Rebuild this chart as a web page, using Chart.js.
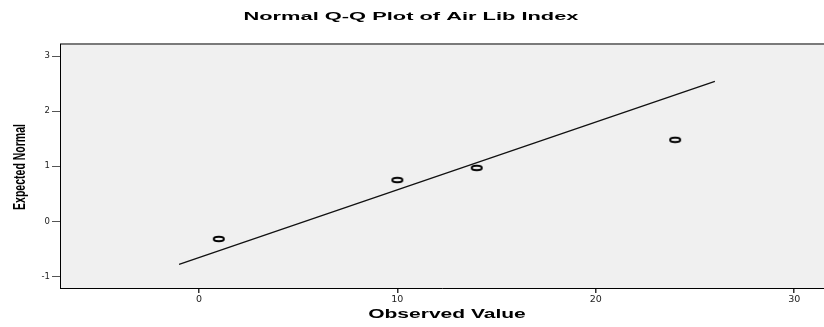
<!DOCTYPE html>
<html>
<head>
<meta charset="utf-8">
<title>Normal Q-Q Plot of Air Lib Index</title>
<script src="https://cdn.jsdelivr.net/npm/chart.js@4/dist/chart.umd.min.js"></script>
<style>
  html, body { margin: 0; padding: 0; background: #fff; overflow: hidden; }
  #wrap { width: 830px; height: 327px; }
  canvas { display: block; }
</style>
</head>
<body>
<!-- plot area runs off the right edge of the window -->
<div id="wrap"><canvas id="qq" width="830" height="327"></canvas></div>
<script>
// Observed values and their expected normal quantiles
const observed = [1, 10, 14, 24];
const expectedNormal = [-0.32, 0.75, 0.97, 1.48];

// Reference line end points
const refLineX = [-1, 26];
const refLineY = [-0.78, 2.54];

const xTickValues = [0, 10, 20, 30];
const yTickValues = [-1, 0, 1, 2, 3];

const titleText = "Normal Q-Q Plot of Air Lib Index";
const xTitle = "Observed Value";
const yTitle = "Expected Normal";

// open elliptical marker, wider than tall
const marker = document.createElement("canvas");
marker.width = 14;
marker.height = 8;
{
  const m = marker.getContext("2d");
  m.strokeStyle = "#000";
  m.lineWidth = 2;
  m.beginPath();
  m.ellipse(7, 4, 5, 2.2, 0, 0, Math.PI * 2);
  m.stroke();
}

// wide, flattened labels
function wideText(ctx, text, x, y, font, sx, vertical) {
  ctx.save();
  ctx.translate(x, y);
  ctx.scale(sx, 1);
  if (vertical) ctx.rotate(-Math.PI / 2);
  ctx.font = font;
  ctx.fillStyle = "#000";
  ctx.textAlign = "center";
  ctx.textBaseline = "middle";
  ctx.fillText(text, 0, 0);
  ctx.restore();
}

const frame = {
  id: "frame",
  beforeDraw(chart) {
    const { ctx, chartArea: a } = chart;
    ctx.save();
    ctx.fillStyle = "#f0f0f0";
    ctx.fillRect(a.left, a.top, a.right - a.left, a.bottom - a.top);
    ctx.strokeStyle = "#7a7a7a";
    ctx.lineWidth = 2;
    ctx.beginPath();
    ctx.moveTo(a.left, a.top);
    ctx.lineTo(a.right, a.top);
    ctx.stroke();
    ctx.restore();
  },
  afterDraw(chart) {
    const ctx = chart.ctx;
    wideText(ctx, titleText, 411, 17, "bold 11.5px 'Liberation Sans', Arial", 1.9, false);
    wideText(ctx, xTitle, 447, 315, "bold 12.5px 'Liberation Sans', Arial", 1.68, false);
    wideText(ctx, yTitle, 20, 167, "bold 10.5px 'Liberation Sans', Arial", 1.65, true);
  }
};

const setTicks = values => scale => {
  scale.ticks = values.map(v => ({ value: v }));
};

new Chart(document.getElementById("qq"), {
  type: "scatter",
  data: {
    datasets: [
      {
        type: "line",
        label: "Reference",
        data: refLineX.map((x, i) => ({ x: x, y: refLineY[i] })),
        borderColor: "#111",
        borderWidth: 1.3,
        pointRadius: 0,
        fill: false,
        order: 2
      },
      {
        label: "Observed",
        data: observed.map((x, i) => ({ x: x, y: expectedNormal[i] })),
        pointStyle: marker,
        pointRadius: 5,
        order: 1
      }
    ]
  },
  options: {
    responsive: false,
    animation: false,
    events: [],
    layout: { padding: { top: 44, left: 0, right: 0, bottom: 0 } },
    plugins: {
      legend: { display: false },
      title: { display: false },
      tooltip: { enabled: false }
    },
    scales: {
      x: {
        type: "linear",
        min: -7,
        max: 31.5,
        afterBuildTicks: setTicks(xTickValues),
        afterFit: s => { s.height = 39; s.paddingLeft = 0; s.paddingRight = 0; },
        border: { color: "#000", width: 1 },
        grid: { drawOnChartArea: false, drawTicks: true, tickLength: 5, color: "#333", lineWidth: 1.5 },
        ticks: {
          padding: 1,
          color: "#222",
          font: { family: "'DejaVu Sans'", size: 9.5 }
        }
      },
      y: {
        type: "linear",
        min: -1.21,
        max: 3.22,
        afterBuildTicks: setTicks(yTickValues),
        afterFit: s => { s.width = 60; s.paddingTop = 0; s.paddingBottom = 0; },
        border: { color: "#000", width: 1 },
        grid: { drawOnChartArea: false, drawTicks: true, tickLength: 8, color: "#555", lineWidth: 1 },
        ticks: {
          padding: 2,
          color: "#222",
          font: { family: "'DejaVu Sans'", size: 8.5 }
        }
      }
    }
  },
  plugins: [frame]
});
</script>
</body>
</html>
